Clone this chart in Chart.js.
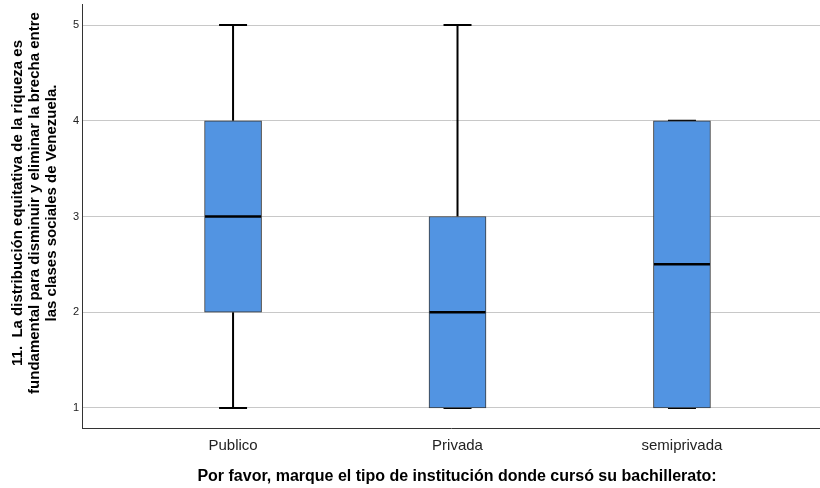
<!DOCTYPE html>
<html lang="es">
  <head>
    <meta charset="UTF-8" />
    <title>Diagrama de caja</title>
    <script src="https://cdn.jsdelivr.net/npm/chart.js"></script>
    <style>
      body { margin: 0; background: #fff; }
    </style>
  </head>
  <body>
    <canvas id="boxChart" width="820" height="488"></canvas>
    <script>
      const categories = ["Publico", "Privada", "semiprivada"];
      const minValues = [1, 1, 1];
      const q1Values = [2, 1, 1];
      const medianValues = [3, 2, 2.5];
      const q3Values = [4, 3, 4];
      const maxValues = [5, 5, 4];
      const yTicks = [1, 2, 3, 4, 5];

      const yTitle = [
        "11.  La distribución equitativa de la riqueza es",
        "fundamental para disminuir y eliminar la brecha entre",
        "las clases sociales de Venezuela.",
      ];
      const xTitle = "Por favor, marque el tipo de institución donde cursó su bachillerato:";

      // whiskers, medians and the axis titles, placed with the chart's scales
      const boxExtras = {
        id: "boxExtras",
        beforeDatasetsDraw(chart) {
          const { ctx, scales } = chart;
          const x = scales.x, y = scales.y;
          ctx.save();
          ctx.strokeStyle = "#000";
          ctx.lineWidth = 2;
          categories.forEach((c, i) => {
            const cx = x.getPixelForValue(i);
            const cap = 14;
            ctx.beginPath();
            ctx.moveTo(cx, y.getPixelForValue(q3Values[i]));
            ctx.lineTo(cx, y.getPixelForValue(maxValues[i]));
            ctx.moveTo(cx, y.getPixelForValue(q1Values[i]));
            ctx.lineTo(cx, y.getPixelForValue(minValues[i]));
            ctx.moveTo(cx - cap, y.getPixelForValue(maxValues[i]));
            ctx.lineTo(cx + cap, y.getPixelForValue(maxValues[i]));
            ctx.moveTo(cx - cap, y.getPixelForValue(minValues[i]));
            ctx.lineTo(cx + cap, y.getPixelForValue(minValues[i]));
            ctx.stroke();
          });
          ctx.restore();
        },
        afterDatasetsDraw(chart) {
          const { ctx, scales } = chart;
          const x = scales.x, y = scales.y;
          ctx.save();
          ctx.strokeStyle = "#000";
          ctx.lineWidth = 2.5;
          categories.forEach((c, i) => {
            const cx = x.getPixelForValue(i);
            const my = y.getPixelForValue(medianValues[i]);
            ctx.beginPath();
            ctx.moveTo(cx - 28, my);
            ctx.lineTo(cx + 28, my);
            ctx.stroke();
          });
          ctx.fillStyle = "#000";
          ctx.textAlign = "center";
          ctx.textBaseline = "middle";
          // x axis title
          ctx.font = "bold 16px 'Liberation Sans', Arial, sans-serif";
          ctx.fillText(xTitle, 457, 477);
          // y axis title
          ctx.font = "bold 15px 'Liberation Sans', Arial, sans-serif";
          ctx.translate(35, 203);
          ctx.rotate(-Math.PI / 2);
          yTitle.forEach((line, k) => {
            ctx.fillText(line, 0, (k - 1) * 17);
          });
          ctx.restore();
        },
      };

      const ctx = document.getElementById("boxChart").getContext("2d");
      new Chart(ctx, {
        type: "bar",
        data: {
          datasets: [
            {
              label: "caja",
              data: categories.map((c, i) => ({ x: i, y: [q1Values[i], q3Values[i]] })),
              backgroundColor: "#5294e2",
              borderColor: "#3a3a3a",
              borderWidth: 1,
              borderSkipped: false,
              barThickness: 57,
            },
          ],
        },
        options: {
          responsive: false,
          animation: false,
          layout: { padding: { top: 4, left: 0, right: 0, bottom: 0 } },
          plugins: {
            legend: { display: false },
            tooltip: { enabled: false },
          },
          scales: {
            x: {
              type: "linear",
              offset: false,
              min: -0.673,
              max: 2.615,
              afterBuildTicks: (s) => { s.ticks = categories.map((c, i) => ({ value: i })); },
              afterFit: (s) => { s.height = 60; s.paddingLeft = 0; s.paddingRight = 0; },
              grid: { display: false, drawTicks: false, offset: false },
              border: { display: true, color: "#333", width: 1 },
              ticks: {
                padding: 9,
                color: "#222",
                font: { family: "'Liberation Sans', Arial", size: 15 },
                callback: (v) => categories[v],
              },
            },
            y: {
              min: 0.79,
              max: 5.22,
              afterBuildTicks: (s) => { s.ticks = yTicks.map((v) => ({ value: v })); },
              afterFit: (s) => { s.width = 82; s.paddingTop = 0; s.paddingBottom = 0; },
              grid: { color: "#c8c8c8", drawTicks: false },
              border: { display: true, color: "#333", width: 1 },
              ticks: {
                padding: 3,
                color: "#222",
                font: { family: "'Liberation Sans', Arial", size: 11 },
              },
            },
          },
        },
        plugins: [boxExtras],
      });
    </script>
  </body>
</html>
